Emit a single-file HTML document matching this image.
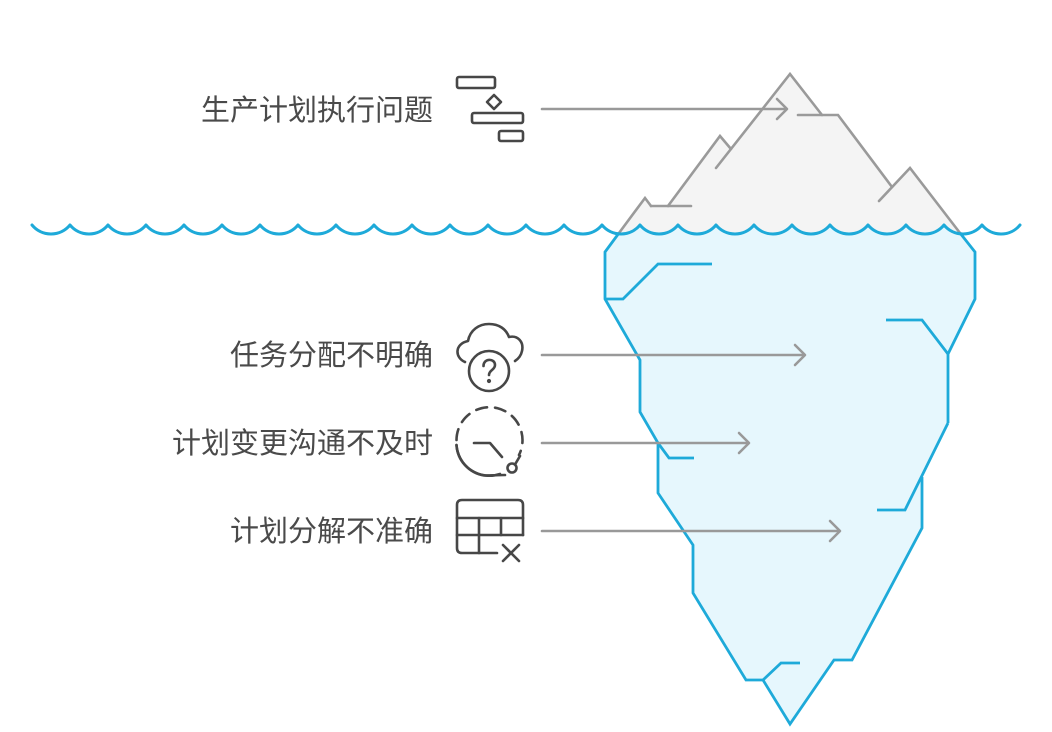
<!DOCTYPE html>
<html>
<head>
<meta charset="utf-8">
<style>
html,body{margin:0;padding:0;background:#ffffff;}
svg{display:block;}
text{font-family:"Liberation Sans","Noto Sans CJK SC",sans-serif;font-size:29px;fill:#4a4a4a;}
</style>
</head>
<body>
<svg width="1052" height="732" viewBox="0 0 1052 732" xmlns="http://www.w3.org/2000/svg">
<defs>
<clipPath id="below">
<path d="M0,225 L32,225 a24.6,24.6 0 0 0 38,0 a24.6,24.6 0 0 0 38,0 a24.6,24.6 0 0 0 38,0 a24.6,24.6 0 0 0 38,0 a24.6,24.6 0 0 0 38,0 a24.6,24.6 0 0 0 38,0 a24.6,24.6 0 0 0 38,0 a24.6,24.6 0 0 0 38,0 a24.6,24.6 0 0 0 38,0 a24.6,24.6 0 0 0 38,0 a24.6,24.6 0 0 0 38,0 a24.6,24.6 0 0 0 38,0 a24.6,24.6 0 0 0 38,0 a24.6,24.6 0 0 0 38,0 a24.6,24.6 0 0 0 38,0 a24.6,24.6 0 0 0 38,0 a24.6,24.6 0 0 0 38,0 a24.6,24.6 0 0 0 38,0 a24.6,24.6 0 0 0 38,0 a24.6,24.6 0 0 0 38,0 a24.6,24.6 0 0 0 38,0 a24.6,24.6 0 0 0 38,0 a24.6,24.6 0 0 0 38,0 a24.6,24.6 0 0 0 38,0 a24.6,24.6 0 0 0 38,0 a24.6,24.6 0 0 0 38,0 L1052,225 L1052,732 L0,732 Z"/>
</clipPath>
<clipPath id="above">
<path d="M0,225 L32,225 a24.6,24.6 0 0 0 38,0 a24.6,24.6 0 0 0 38,0 a24.6,24.6 0 0 0 38,0 a24.6,24.6 0 0 0 38,0 a24.6,24.6 0 0 0 38,0 a24.6,24.6 0 0 0 38,0 a24.6,24.6 0 0 0 38,0 a24.6,24.6 0 0 0 38,0 a24.6,24.6 0 0 0 38,0 a24.6,24.6 0 0 0 38,0 a24.6,24.6 0 0 0 38,0 a24.6,24.6 0 0 0 38,0 a24.6,24.6 0 0 0 38,0 a24.6,24.6 0 0 0 38,0 a24.6,24.6 0 0 0 38,0 a24.6,24.6 0 0 0 38,0 a24.6,24.6 0 0 0 38,0 a24.6,24.6 0 0 0 38,0 a24.6,24.6 0 0 0 38,0 a24.6,24.6 0 0 0 38,0 a24.6,24.6 0 0 0 38,0 a24.6,24.6 0 0 0 38,0 a24.6,24.6 0 0 0 38,0 a24.6,24.6 0 0 0 38,0 a24.6,24.6 0 0 0 38,0 a24.6,24.6 0 0 0 38,0 L1052,225 L1052,0 L0,0 Z"/>
</clipPath>
</defs>

<!-- underwater fill -->
<polygon clip-path="url(#below)" fill="#e6f7fd" points="629,220 605,252 605,299 640,360 640,412 658,443 658,493 693,545 693,593 746,680 763,680 790,724 834,660 852,660 922,528 922,477 948,423 948,354 975,299 975,252 950,220"/>
<!-- above water fill -->
<polygon clip-path="url(#above)" fill="#f4f4f4" points="614,240 645,198 651,206 668,206 720,136 731,149 790,74 822,115 838,115 892,187 910,168 965,240"/>

<!-- gray strokes -->
<g fill="none" stroke="#9a9a9a" stroke-width="2.6" stroke-linejoin="miter" stroke-linecap="round">
<path d="M716,168 L790,74 L822,115"/>
<path d="M798,115 L838,115 L892,187"/>
<path d="M879,201 L910,168 L960,233"/>
<path d="M668,206 L720,136 L731,149"/>
<path d="M651,206 L691,206"/>
<path d="M619,233 L645,198 L651,206"/>
</g>

<!-- blue strokes -->
<g fill="none" stroke="#1eaad9" stroke-width="2.8" stroke-linejoin="miter" stroke-linecap="butt">
<path d="M619,233 L605,252 L605,299 L640,360 L640,412 L658,443 L658,493 L693,545 L693,593 L746,680 L763,680 L790,724 L834,660 L852,660 L922,528 L922,477"/>
<path d="M948,423 L905,510 L877,510"/>
<path d="M960,233 L975,252 L975,299 L948,354 L948,423"/>
<path d="M886,320 L922,320 L948,354"/>
<path d="M605,299 L623,299 L658,264 L712,264"/>
<path d="M658,443 L669,458 L694,458"/>
<path d="M763,680 L781,663 L800,663"/>
</g>

<!-- water line -->
<path fill="none" stroke="#1eaad9" stroke-width="3" stroke-linecap="round" stroke-linejoin="round" d="M32,225 a24.6,24.6 0 0 0 38,0 a24.6,24.6 0 0 0 38,0 a24.6,24.6 0 0 0 38,0 a24.6,24.6 0 0 0 38,0 a24.6,24.6 0 0 0 38,0 a24.6,24.6 0 0 0 38,0 a24.6,24.6 0 0 0 38,0 a24.6,24.6 0 0 0 38,0 a24.6,24.6 0 0 0 38,0 a24.6,24.6 0 0 0 38,0 a24.6,24.6 0 0 0 38,0 a24.6,24.6 0 0 0 38,0 a24.6,24.6 0 0 0 38,0 a24.6,24.6 0 0 0 38,0 a24.6,24.6 0 0 0 38,0 a24.6,24.6 0 0 0 38,0 a24.6,24.6 0 0 0 38,0 a24.6,24.6 0 0 0 38,0 a24.6,24.6 0 0 0 38,0 a24.6,24.6 0 0 0 38,0 a24.6,24.6 0 0 0 38,0 a24.6,24.6 0 0 0 38,0 a24.6,24.6 0 0 0 38,0 a24.6,24.6 0 0 0 38,0 a24.6,24.6 0 0 0 38,0 a24.6,24.6 0 0 0 38,0"/>

<!-- arrows -->
<g fill="none" stroke="#999999" stroke-width="2.6" stroke-linecap="round" stroke-linejoin="round">
<path d="M542,109 H786"/><path d="M777,99 L787,109 L777,119"/>
<path d="M542,355 H804"/><path d="M795,345 L805,355 L795,365"/>
<path d="M542,443 H748"/><path d="M739,433 L749,443 L739,453"/>
<path d="M542,531 H839"/><path d="M830,521 L840,531 L830,541"/>
</g>

<!-- labels -->
<text x="433" y="120" text-anchor="end">生产计划执行问题</text>
<text x="433" y="365" text-anchor="end">任务分配不明确</text>
<text x="433" y="453" text-anchor="end">计划变更沟通不及时</text>
<text x="433" y="541" text-anchor="end">计划分解不准确</text>

<!-- icons -->
<g fill="none" stroke="#474747" stroke-width="2.6" stroke-linecap="round" stroke-linejoin="round">
<!-- gantt -->
<rect x="457" y="77" width="38" height="11" rx="2"/>
<path d="M494,95 L501,102 L494,109 L487,102 Z"/>
<rect x="472" y="113" width="51" height="10" rx="2"/>
<rect x="499" y="131" width="24" height="10" rx="2"/>
<!-- cloud question -->
<path d="M465,362 C455,358 454,344 468,341 C470,330 479,324 489,324 C499,324 506,329 509,337 C518,335 524,342 522,351 C521,356 518,359 515,361"/>
<circle cx="489" cy="371" r="20"/>
<path d="M483.5,366 C483.5,358 495,358 495,365 C495,370 489,370 489,375"/>
<circle cx="489" cy="381" r="0.8" fill="#474747"/>
<!-- dashed clock -->
<path d="M456.5,445 A33,33 0 0 0 484,475.5 L505,475" stroke-dasharray="none"/>
<path d="M456.5,445 A33,33 0 0 0 500,474"/>
<path d="M456.5,440 A33,33 0 1 1 519,455" stroke-dasharray="11,8"/>
<circle cx="512" cy="468" r="4.5"/>
<path d="M515,464.5 L520,456"/>
<path d="M474,443 H490 L502,457"/>
<!-- table with x -->
<path d="M497,553 H462 Q457,553 457,548 V505 Q457,500 462,500 H518 Q523,500 523,505 V535"/>
<path d="M457,518 H523"/>
<path d="M457,535 H523"/>
<path d="M479,518 V553"/>
<path d="M501,518 V535"/>
<path d="M503,545 L519,561"/>
<path d="M519,545 L503,561"/>
</g>
</svg>
</body>
</html>
